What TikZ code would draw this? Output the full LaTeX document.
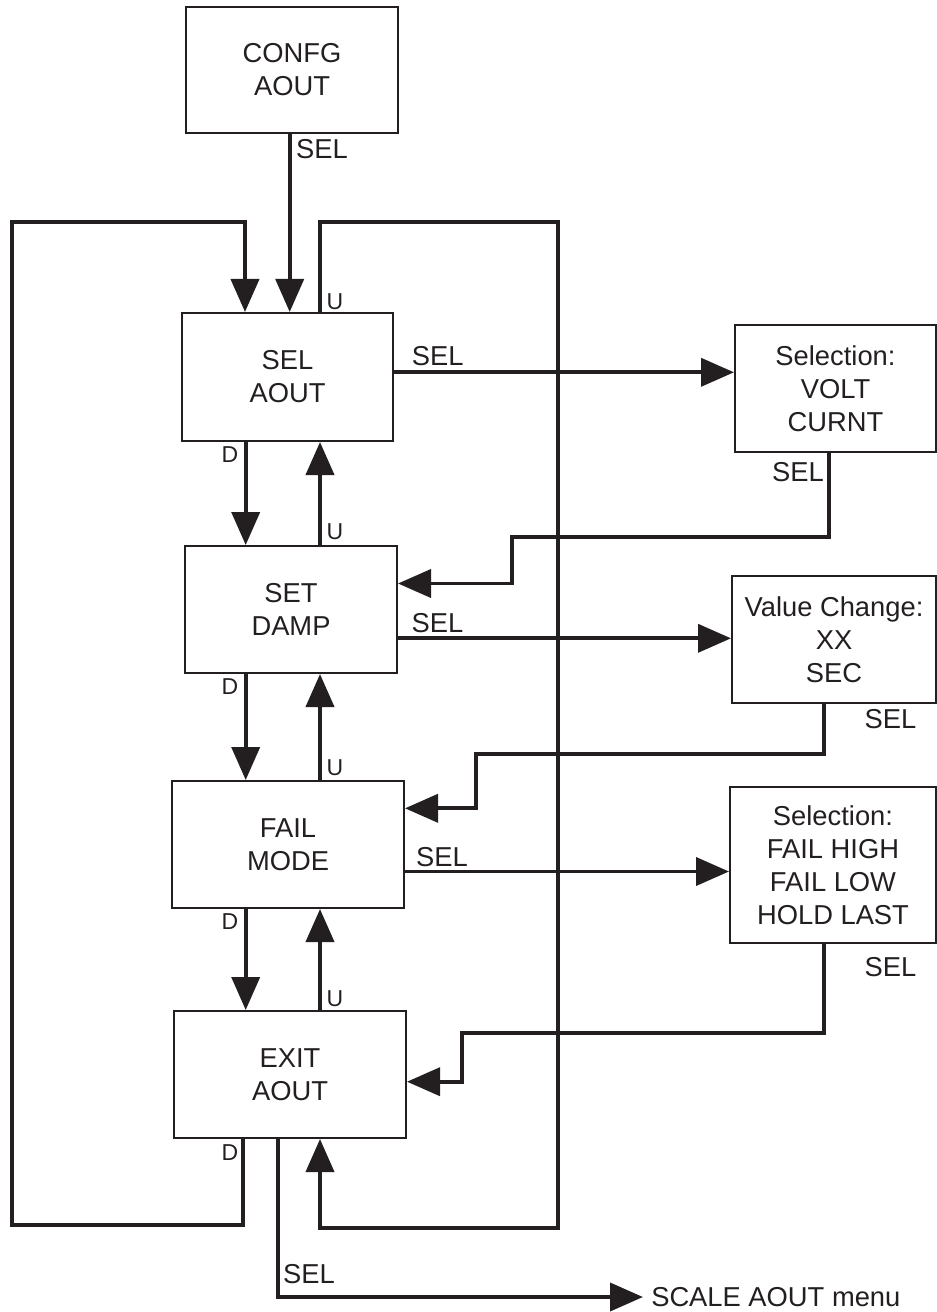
\documentclass[tikz,border=0pt]{standalone}
\usepackage{fontspec}
\setmainfont{Liberation Sans}
\usetikzlibrary{arrows.meta}
\definecolor{ink}{RGB}{35,31,32}
\begin{document}
\begin{tikzpicture}[x=0.75pt,y=-0.75pt,
  box/.style={draw=ink, line width=1.5pt, inner sep=0pt, align=center, text=ink,
    font=\fontsize{20.5}{24.75}\selectfont},
  lbl/.style={inner sep=0pt, text=ink, font=\fontsize{20.5}{24.75}\selectfont},
  sml/.style={inner sep=0pt, text=ink, font=\fontsize{17.25}{20}\selectfont},
  conn/.style={draw=ink, line width=2.9pt, -{Triangle[length=24.75pt,width=21pt]}}]
\useasboundingbox (0,0) rectangle (937,1312);

% boxes
\node[box, minimum width=159pt, minimum height=94.5pt] (confg) at (292,70) {CONFG\\AOUT};
\node[box, minimum width=158.25pt, minimum height=96pt] (selaout) at (287.5,377) {SEL\\AOUT};
\node[box, minimum width=159pt, minimum height=95.25pt] (setdamp) at (291,609.5) {SET\\DAMP};
\node[box, minimum width=174pt, minimum height=95.25pt] (failmode) at (288,844.5) {FAIL\\MODE};
\node[box, minimum width=174pt, minimum height=95.25pt] (exitaout) at (290,1074.5) {EXIT\\AOUT};
\node[box, minimum width=150.75pt, minimum height=95.25pt] (sel1) at (835.5,388.5) {Selection:\\VOLT\\CURNT};
\node[box, minimum width=153pt, minimum height=95.25pt] (val) at (834,639.5) {Value Change:\\XX\\SEC};
\node[box, minimum width=154.5pt, minimum height=117pt] (sel3) at (833,865) {Selection:\\FAIL HIGH\\FAIL LOW\\HOLD LAST};
\node[lbl, anchor=west, inner xsep=6pt] (scale) at (643,1297) {SCALE AOUT menu};

% column / row coordinates
\coordinate (xS) at (289.7,0);
\coordinate (xD) at (245.7,0);
\coordinate (xU) at (320,0);
\coordinate (xE) at (278.2,0);
\coordinate (y1) at (0,372.3);
\coordinate (y2) at (0,638.3);
\coordinate (y3) at (0,871.5);

% vertical D / U / SEL arrows
\draw[conn] (confg.south -| xS) -- (selaout.north -| xS);
\draw[conn] (selaout.south -| xD) -- (setdamp.north -| xD);
\draw[conn] (setdamp.south -| xD) -- (failmode.north -| xD);
\draw[conn] (failmode.south -| xD) -- (exitaout.north -| xD);
\draw[conn] (setdamp.north -| xU) -- (selaout.south -| xU);
\draw[conn] (failmode.north -| xU) -- (setdamp.south -| xU);
\draw[conn] (exitaout.north -| xU) -- (failmode.south -| xU);

% horizontal SEL arrows
\draw[conn] (selaout.east |- y1) -- (sel1.west |- y1);
\draw[conn] (setdamp.east |- y2) -- (val.west |- y2);
\draw[conn] (failmode.east |- y3) -- (sel3.west |- y3);

% returns
\coordinate (r1a) at (829.4,537);
\coordinate (r1b) at (512,537);
\coordinate (r1c) at (512,583.5);
\draw[conn] (sel1.south -| r1a) -- (r1a) -- (r1b) -- (r1c) -- (setdamp.east |- r1c);
\coordinate (r2a) at (824,754);
\coordinate (r2b) at (476,754);
\coordinate (r2c) at (476,808.3);
\draw[conn] (val.south -| r2a) -- (r2a) -- (r2b) -- (r2c) -- (failmode.east |- r2c);
\coordinate (r3a) at (824,1033.3);
\coordinate (r3b) at (462.4,1033.3);
\coordinate (r3c) at (462.4,1081.7);
\draw[conn] (sel3.south -| r3a) -- (r3a) -- (r3b) -- (r3c) -- (exitaout.east |- r3c);

% loops
\coordinate (l1) at (243,1225);
\coordinate (l2) at (11.7,1225);
\coordinate (l3) at (11.7,222);
\coordinate (l4) at (245,222);
\draw[conn] (exitaout.south -| l1) -- (l1) -- (l2) -- (l3) -- (l4) -- (selaout.north -| l4);
\coordinate (u1) at (320,222);
\coordinate (u2) at (557.6,222);
\coordinate (u3) at (557.6,1228);
\coordinate (u4) at (320,1228);
\draw[conn] (selaout.north -| u1) -- (u1) -- (u2) -- (u3) -- (u4) -- (exitaout.south -| u4);

% exit SEL
\coordinate (e1) at (278.2,1297);
\draw[conn] (exitaout.south -| e1) -- (e1) -- (scale.west);

% labels
\node[lbl] (lsel0) at (322,149) {SEL};
\node[sml] (ld1) at (230,455) {D};
\node[sml] (ld2) at (230,687) {D};
\node[sml] (ld3) at (230,922) {D};
\node[sml] (ld4) at (230,1153) {D};
\node[sml] (lu1) at (335,302) {U};
\node[sml] (lu2) at (335,532) {U};
\node[sml] (lu3) at (335,768) {U};
\node[sml] (lu4) at (335,999) {U};
\node[lbl] (ls1) at (437.7,356) {SEL};
\node[lbl] (ls2) at (437.5,623) {SEL};
\node[lbl] (ls3) at (442,857) {SEL};
\node[lbl] (lr1) at (798,472) {SEL};
\node[lbl] (lr2) at (890.5,719) {SEL};
\node[lbl] (lr3) at (890.5,967) {SEL};
\node[lbl] (lse) at (309,1274) {SEL};
\end{tikzpicture}
\end{document}
